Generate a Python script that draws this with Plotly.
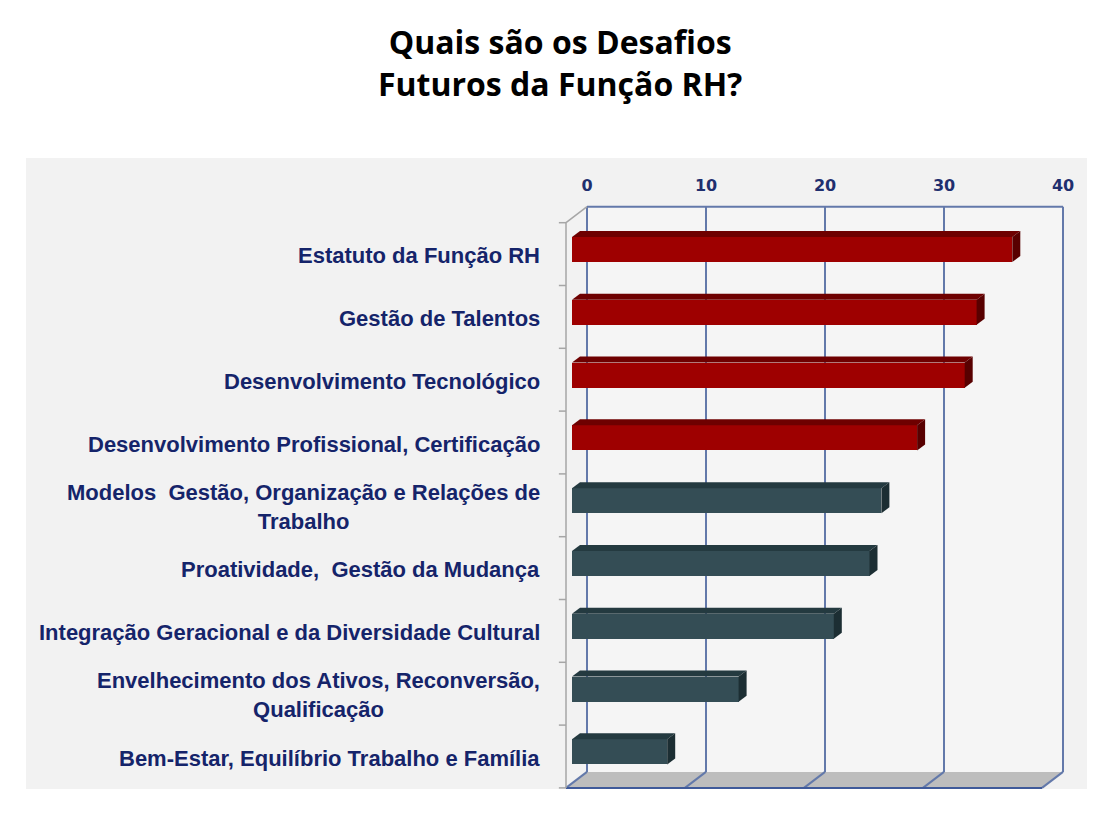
import plotly.graph_objects as go

# data (top to bottom)
categories = [
    "Estatuto da Função RH",
    "Gestão de Talentos",
    "Desenvolvimento Tecnológico",
    "Desenvolvimento Profissional, Certificação",
    "Modelos  Gestão, Organização e Relações de<br>Trabalho",
    "Proatividade,  Gestão da Mudança",
    "Integração Geracional e da Diversidade Cultural",
    "Envelhecimento dos Ativos, Reconversão,<br>Qualificação",
    "Bem-Estar, Equilíbrio Trabalho e Família",
]
values = [37, 34, 33, 29, 26, 25, 22, 14, 8]
groups = ["top", "top", "top", "top", "rest", "rest", "rest", "rest", "rest"]
x_ticks = [0, 10, 20, 30, 40]

# colours
front_col = {"top": "#9E0000", "rest": "#344D55"}
lid_col = {"top": "#6E0000", "rest": "#243A40"}
side_col = {"top": "#580000", "rest": "#1C2E33"}
GRID = "#6379AA"
NAVY = "#15246A"

# page has an 8px body margin, so work in screen pixels and shift
OFF = 8
W, H = 1110 - OFF, 813 - OFF
L, R, T, B = 26 - OFF, 23, 158 - OFF, 24
PX_X, PX_Y = 11.9, 62.8
X0_PX = 587 - OFF        # back wall: x=0
Y0_PX = 249.5 - OFF      # centre of first bar front face
x_range = [(L - X0_PX) / PX_X, (W - R - X0_PX) / PX_X]
y_range = [(H - B - Y0_PX) / PX_Y, (T - Y0_PX) / PX_Y]

bar_base = -15 / PX_X                      # bar front face starts in front of the wall
bar_dx, bar_dy = 8 / PX_X, -6 / PX_Y       # bar depth
fdx, fdy = -21 / PX_X, 4.6 / PX_Y          # front plane offset
bdx, bdy = 0.0, -11.4 / PX_Y               # back plane offset
half = 0.2
n = len(categories)
idx = list(range(n))
top_edge, bot_edge = -0.5, n - 0.5
xmax = x_ticks[-1]

fig = go.Figure()

# front faces
fig.add_trace(go.Bar(
    y=idx, x=values, base=bar_base, orientation="h", width=2 * half,
    marker=dict(color=[front_col[g] for g in groups], line=dict(width=0)),
    hoverinfo="skip", showlegend=False,
))

# lid and side faces
for i, v, g in zip(idx, values, groups):
    y1, y2 = i - half, i + half
    x1, x2 = bar_base, bar_base + v
    fig.add_trace(go.Scatter(
        x=[x1, x2, x2 + bar_dx, x1 + bar_dx, x1], y=[y1, y1, y1 + bar_dy, y1 + bar_dy, y1],
        fill="toself", fillcolor=lid_col[g], mode="lines", line=dict(width=0),
        hoverinfo="skip", showlegend=False,
    ))
    fig.add_trace(go.Scatter(
        x=[x2, x2 + bar_dx, x2 + bar_dx, x2, x2], y=[y1, y1 + bar_dy, y2 + bar_dy, y2, y1],
        fill="toself", fillcolor=side_col[g], mode="lines", line=dict(width=0),
        hoverinfo="skip", showlegend=False,
    ))

shapes = []


def seg(x1, y1, x2, y2, color=GRID, width=2):
    shapes.append(dict(type="line", xref="x", yref="y", x0=x1, y0=y1, x1=x2, y1=y2,
                       line=dict(color=color, width=width), layer="below"))


# back wall
shapes.append(dict(type="rect", xref="x", yref="y", x0=bdx, x1=xmax + bdx,
                   y0=top_edge + bdy, y1=bot_edge + bdy, fillcolor="#F5F5F5",
                   line=dict(width=0), layer="below"))
# floor
shapes.append(dict(
    type="path", xref="x", yref="y", layer="below", fillcolor="#BDBDBD", line=dict(width=0),
    path=f"M {fdx},{bot_edge + fdy} L {xmax + fdx},{bot_edge + fdy} "
         f"L {xmax + bdx},{bot_edge + bdy} L {bdx},{bot_edge + bdy} Z",
))
seg(bdx, top_edge + bdy, xmax + bdx, top_edge + bdy)
for t in x_ticks:
    seg(t + bdx, top_edge + bdy, t + bdx, bot_edge + bdy)
    seg(t + fdx, bot_edge + fdy, t + bdx, bot_edge + bdy)
seg(fdx, bot_edge + fdy, xmax + fdx, bot_edge + fdy, color="#3F5A9A")
# left wall
seg(fdx, top_edge + fdy, fdx, bot_edge + fdy, color="#A6A6A6", width=1.5)
seg(fdx, top_edge + fdy, bdx, top_edge + bdy, color="#A6A6A6", width=1.5)
for k in range(n + 1):
    seg(fdx - 0.6, k - 0.5 + fdy, fdx, k - 0.5 + fdy, color="#A6A6A6", width=1.5)

annotations = []
for i, c in enumerate(categories):
    annotations.append(dict(
        x=(542 - 587) / PX_X, y=i + 0.1, xref="x", yref="y", text=c, showarrow=False,
        xanchor="right", yanchor="middle", align="center",
        font=dict(family="Liberation Sans", size=22, color=NAVY, weight="bold"),
    ))
annotations.append(dict(
    x=(560 - 26) / (W - L - R), y=(789 - 62) / (H - T - B), xref="paper", yref="paper",
    text="<b>Quais são os Desafios<br>Futuros da Função RH?</b>", showarrow=False,
    xanchor="center", yanchor="middle", align="center",
    font=dict(family="Open Sans", size=32, color="black"),
))

fig.update_layout(
    width=W, height=H,
    margin=dict(l=L, r=R, t=T, b=B),
    paper_bgcolor="white", plot_bgcolor="#F2F2F2",
    xaxis=dict(
        range=x_range, side="top", anchor="free", position=(789 - 194) / (H - T - B),
        tickvals=x_ticks, showgrid=False, zeroline=False, showline=False, ticks="",
        tickfont=dict(family="DejaVu Sans", size=16, color="#1F2F6E", weight="bold"),
        fixedrange=True,
    ),
    yaxis=dict(range=y_range, visible=False, fixedrange=True),
    shapes=shapes, annotations=annotations,
    bargap=0,
)

fig.write_html("out.html")
